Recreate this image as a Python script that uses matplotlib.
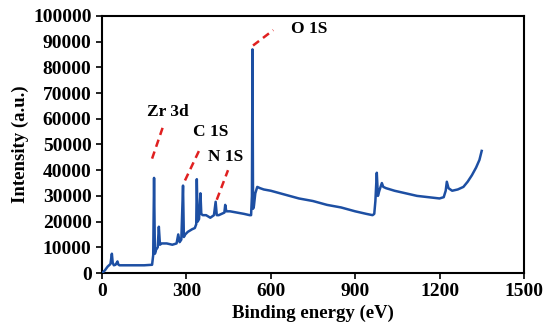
import matplotlib
matplotlib.use("Agg")
import matplotlib.pyplot as plt

# XPS survey spectrum
energy = [0, 10, 20, 30, 35, 38, 42, 48, 55, 58, 62, 70, 100, 150, 178, 182,
          185, 188, 192, 198, 202, 206, 212, 230, 250, 265, 271, 276, 282,
          288, 291, 296, 305, 320, 330, 335, 337, 340, 345, 350, 353, 358,
          370, 385, 398, 404, 408, 415, 425, 435, 438, 442, 455, 480, 505,
          525, 530, 533, 535, 537, 540, 545, 552, 562, 575, 600, 650, 700,
          750, 800, 850, 900, 940, 962, 968, 972, 977, 981, 986, 995, 1000,
          1010, 1040, 1080, 1120, 1160, 1200, 1215, 1222, 1226, 1232, 1245,
          1265, 1285, 1300, 1315, 1330, 1342, 1350]
intensity = [0, 1000, 2500, 3500, 7500, 4000, 3000, 3200, 4500, 3300, 3000,
             3000, 3000, 3000, 3200, 7000, 37000, 7500, 9000, 10000, 18000,
             11000, 11500, 11500, 11000, 11500, 15000, 12000, 13000, 34000,
             14000, 15000, 16000, 17000, 17500, 19000, 36500, 20000, 21000,
             31000, 23000, 22500, 22500, 21500, 22500, 27700, 22500, 22500,
             23000, 23500, 26500, 24000, 24000, 23500, 23000, 22500, 22500,
             30000, 87000, 25000, 26000, 31000, 33500, 33000, 32500, 32000,
             30500, 29000, 28000, 26500, 25500, 24000, 23000, 22500, 23000,
             28000, 39000, 30000, 32000, 35000, 33500, 33000, 32000, 31000,
             30000, 29500, 29000, 29500, 32000, 35500, 33000, 32000, 32500,
             33500, 35500, 38000, 41000, 44000, 47500]

peak_labels = ["Zr 3d", "C 1S", "N 1S", "O 1S"]
label_xy = [(235, 62500), (385, 55000), (440, 45000), (735, 95000)]
pointer_from = [(178, 44500), (295, 36000), (408, 28500), (537, 88500)]
pointer_to = [(217, 57000), (349, 48500), (448, 40000), (609, 94500)]

plt.rcParams.update({
    "font.family": ["Liberation Serif", "DejaVu Serif"],
    "font.weight": "bold",
})

fig = plt.figure(figsize=(5.5, 3.36), dpi=100)
ax = fig.add_axes([0.1855, 0.1875, 0.767, 0.765])

ax.plot(energy, intensity, color="#1d4fa3", linewidth=1.8, zorder=3)

for (x0, y0), (x1, y1) in zip(pointer_from, pointer_to):
    ax.plot([x0, x1], [y0, y1], color="#e02020", linestyle=(0, (3, 2)),
            linewidth=1.8, zorder=4)
for txt, (tx, ty) in zip(peak_labels, label_xy):
    ax.text(tx, ty, txt, ha="center", va="center", fontsize=12.5,
            fontweight="bold", color="black")

ax.set_xlim(0, 1500)
ax.set_ylim(0, 100000)
ax.set_xticks([0, 300, 600, 900, 1200, 1500])
ax.set_yticks(range(0, 100001, 10000))
ax.tick_params(axis="both", direction="out", length=4, width=1.2,
               labelsize=14)
for lab in ax.get_xticklabels() + ax.get_yticklabels():
    lab.set_fontweight("bold")
for sp in ax.spines.values():
    sp.set_linewidth(1.5)

ax.set_xlabel("Binding energy (eV)", fontsize=13.5, fontweight="bold",
              labelpad=3)
ax.set_ylabel("Intensity (a.u.)", fontsize=13.5, fontweight="bold",
              labelpad=3)

fig.savefig("out.png", dpi=100, facecolor="white")
